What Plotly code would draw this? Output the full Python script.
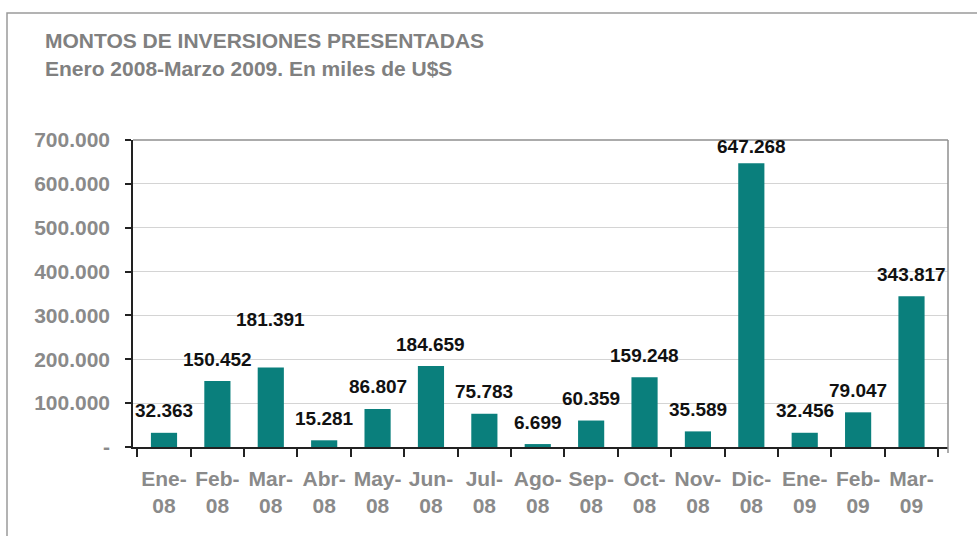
import plotly.graph_objects as go

categories = ["Ene-<br>08", "Feb-<br>08", "Mar-<br>08", "Abr-<br>08", "May-<br>08", "Jun-<br>08",
              "Jul-<br>08", "Ago-<br>08", "Sep-<br>08", "Oct-<br>08", "Nov-<br>08", "Dic-<br>08",
              "Ene-<br>09", "Feb-<br>09", "Mar-<br>09"]
values = [32363, 150452, 181391, 15281, 86807, 184659, 75783, 6699, 60359, 159248,
          35589, 647268, 32456, 79047, 343817]
ytick_vals = [0, 100000, 200000, 300000, 400000, 500000, 600000, 700000]
ytick_text = ["-", "100.000", "200.000", "300.000", "400.000", "500.000", "600.000", "700.000"]
title_line1 = "MONTOS DE INVERSIONES PRESENTADAS"
title_line2 = "Enero 2008-Marzo 2009. En miles de U$S"

W, H = 977, 536
L, R, T, B = 133, 948, 140, 447

def px_x(p):
    return (p - L) / (R - L)

def px_y(p):
    return (B - p) / (B - T)

FONT = "Liberation Sans, Arial, sans-serif"
GRAY = "#8a8a8a"

fig = go.Figure()
fig.add_trace(go.Bar(x=categories, y=values, marker=dict(color="#0A7F7C", line=dict(width=0)),
                     width=0.49, hoverinfo="x+y"))

label_shift = {2: 48, 11: 17}
for i, (c, v) in enumerate(zip(categories, values)):
    fig.add_annotation(x=c, y=v, xref="x", yref="y", text=f"{v:,}".replace(",", "."),
                       showarrow=False, yanchor="middle", yshift=label_shift.get(i, 22),
                       font=dict(family=FONT, size=19, color="#111111", weight="bold"))

fig.add_annotation(x=px_x(43), y=px_y(40), xref="paper", yref="paper", text=title_line1,
                   showarrow=False, xanchor="left", yanchor="middle",
                   font=dict(family=FONT, size=21, color="#808080", weight="bold"))
fig.add_annotation(x=px_x(43), y=px_y(69), xref="paper", yref="paper", text=title_line2,
                   showarrow=False, xanchor="left", yanchor="middle",
                   font=dict(family=FONT, size=21, color="#808080", weight="bold"))

shapes = [
    dict(type="rect", xref="paper", yref="paper", x0=px_x(7), x1=px_x(1010), y0=px_y(600), y1=px_y(13),
         line=dict(color="#9a9a9a", width=1.5), fillcolor="rgba(0,0,0,0)", layer="below"),
    dict(type="line", xref="paper", yref="paper", x0=0, x1=1, y0=1, y1=1, line=dict(color="#8f8f8f", width=1.5)),
    dict(type="line", xref="paper", yref="paper", x0=1, x1=1, y0=px_y(453), y1=1, line=dict(color="#8f8f8f", width=1.5)),
]

fig.update_layout(
    width=W, height=H,
    margin=dict(l=L, r=W - R, t=T, b=H - B),
    plot_bgcolor="white", paper_bgcolor="white",
    showlegend=False, shapes=shapes,
    bargap=0.5,
    xaxis=dict(showline=True, linecolor="#222222", linewidth=1.5, ticks="outside", tickson="boundaries",
               ticklen=8, tickcolor="#222222", tickwidth=1.5, tickangle=0, automargin=False,
               tickfont=dict(family=FONT, size=21, color=GRAY, weight="bold"),
               showgrid=False, fixedrange=True, ticklabelstandoff=12),
    yaxis=dict(range=[0, 700000], tickvals=ytick_vals, ticktext=ytick_text, automargin=False,
               showline=True, linecolor="#222222", linewidth=1.5, ticks="outside", ticklen=6,
               tickcolor="#222222", tickwidth=1.5,
               tickfont=dict(family=FONT, size=21, color=GRAY, weight="bold"),
               showgrid=True, gridcolor="#d4d4d4", gridwidth=1, zeroline=False,
               ticklabelstandoff=11, fixedrange=True),
)

fig.write_html("out.html", config={"displayModeBar": False},
               post_script="document.body.style.margin='0px';document.body.style.overflow='hidden';")
